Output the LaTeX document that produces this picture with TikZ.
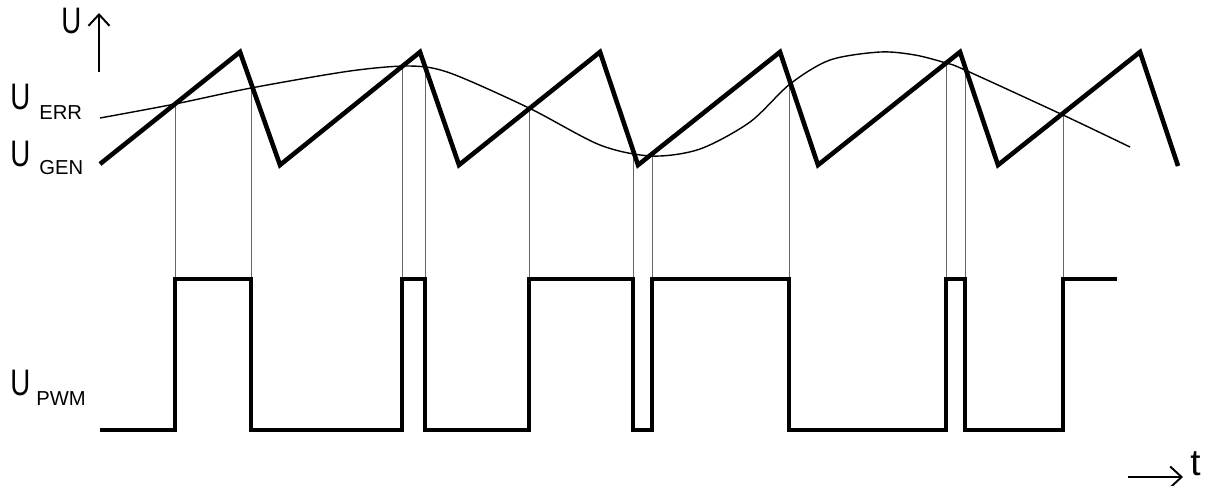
\documentclass[tikz,border=0pt]{standalone}
\usepackage{fontspec}
\setmainfont{Liberation Sans}
\usetikzlibrary{arrows.meta, positioning}
\newcommand{\letraU}{\scalebox{0.75}[1]{U}}
\tikzset{
    senal/.style = {line width=2.6pt, line join=miter},
    error/.style = {line width=0.8pt},
    guia/.style = {line width=0.5pt, black!60},
    eje/.style = {line width=1.1pt, -{Straight Barb[length=6.5pt, width=12pt]}},
    etiqueta/.style = {inner sep=0pt, anchor=base west, font=\fontsize{21}{22}\selectfont},
    subindice/.style = {inner sep=0pt, anchor=base west, font=\fontsize{11.5}{12}\selectfont}
}

\begin{document}
\begin{tikzpicture}[x=0.02cm, y=-0.02cm]
    \useasboundingbox (0,0) rectangle (1216,485);

    % Ejes
    \coordinate (ubase) at (99,72);
    \coordinate (utip) at (99,13);
    \coordinate (tbase) at (1128,477);
    \coordinate (ttip) at (1183,477);
    \draw [eje] (ubase) -- (utip);
    \draw [eje] (tbase) -- (ttip);

    % Etiquetas
    \node (ueje) [etiqueta] at (61,33) {\letraU};
    \node (teje) [etiqueta] at (1190,475) {t};
    \node (uerr) [etiqueta] at (10,109) {\letraU};
    \node (uerrsub) [subindice] at (39,119) {ERR};
    \node (ugen) [etiqueta] at (10,166) {\letraU};
    \node (ugensub) [subindice] at (39,174) {GEN};
    \node (upwm) [etiqueta] at (10,395) {\letraU};
    \node (upwmsub) [subindice] at (36,405) {PWM};

    % Lineas guia
    \foreach \x/\y in {175/104, 251/88, 402/66, 425/68, 529/108, 633/153,
                       652/156, 789/84, 946/63, 965/70, 1063/115}
        \draw [guia] (\x,\y) -- (\x,279);

    % Error
    \draw [error] plot [smooth, tension=0.5] coordinates {
        (100,118) (175,104) (251,88) (350,71) (410,66) (450,73) (529,108)
        (600,145) (652,156) (700,149) (750,122) (790,84) (830,60) (880,52)
        (915,55) (946,63) (965,70) (1063,115) (1130,147)};

    % Diente de sierra
    \draw [senal] (100,164) -- (240,52) -- (280,165) -- (420,52) -- (459,165)
        -- (600,52) -- (638,165) -- (780,52) -- (818,165) -- (960,52)
        -- (998,165) -- (1140,52) -- (1178,166);

    % PWM
    \draw [senal] (100,430) -| (175,279) -| (251,430) -| (402,279) -| (425,430)
        -| (529,279) -| (633,430) -| (652,279) -| (789,430) -| (946,279)
        -| (965,430) -| (1063,279) -- (1117,279);
\end{tikzpicture}
\end{document}
